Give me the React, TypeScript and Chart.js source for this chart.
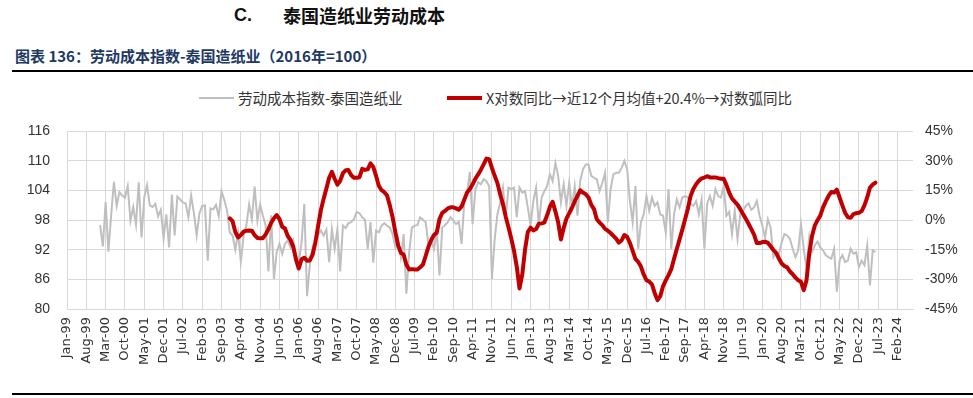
import React, { useEffect, useRef } from "react";
import { Chart, registerables } from "chart.js";

Chart.register(...registerables);

// months counted from Jan-99 (index 0)
const GRAY_START = 12; // Jan-00
const RED_START = 59; // Dec-03

const grayValues: number[] = [
  97.0, 92.7, 101.7, 91.6, 99.0, 105.8, 100.9, 103.7, 103.0, 102.6, 104.9, 97.9,
  100.7, 97.1, 105.7, 94.5, 102.6, 105.1, 101.0, 100.7, 101.3, 98.8, 100.1, 94.3,
  99.2, 92.5, 103.2, 94.9, 102.8, 102.2, 101.6, 101.4, 98.6, 103.0, 99.4, 94.9,
  99.4, 100.9, 101.0, 89.8, 100.4, 100.2, 101.1, 98.8, 103.9, 102.1, 100.0, 95.5,
  94.9, 92.0, 95.4, 89.6, 94.8, 96.9, 101.2, 98.2, 104.8, 97.9, 101.2, 98.9,
  96.9, 87.6, 99.0, 86.1, 91.5, 93.2, 91.2, 93.2, 93.9, 92.5, 93.9, 91.0,
  89.5, 93.5, 101.3, 82.6, 88.9, 92.5, 94.2, 95.0, 95.9, 94.9, 96.1, 89.5,
  96.2, 92.2, 96.2, 87.6, 96.9, 96.4, 97.4, 97.6, 98.2, 99.7, 99.4, 98.6,
  98.1, 92.2, 97.6, 89.4, 95.9, 95.5, 96.9, 97.4, 96.9, 96.5, 95.2, 92.5,
  94.2, 90.5, 95.2, 83.1, 91.5, 96.5, 96.9, 97.0, 98.6, 98.1, 97.6, 92.9,
  93.9, 92.2, 95.9, 86.8, 96.5, 97.0, 97.6, 98.6, 97.9, 97.2, 97.7, 93.2,
  101.9, 103.6, 107.8, 97.2, 104.2, 105.7, 105.3, 106.3, 105.9, 104.9, 86.1, 94.2,
  99.2, 101.6, 104.6, 98.6, 104.6, 104.3, 104.6, 98.6, 104.6, 103.6, 103.9, 100.6,
  96.9, 101.9, 104.6, 96.9, 102.6, 103.9, 104.9, 107.3, 105.9, 109.6, 107.0, 101.6,
  105.3, 100.9, 105.6, 100.6, 104.9, 98.9, 106.0, 108.3, 109.3, 109.3, 107.0, 106.6,
  106.3, 103.9, 105.6, 107.6, 97.6, 104.3, 107.3, 107.6, 107.6, 108.6, 110.0, 108.3,
  101.9, 97.6, 104.9, 92.2, 97.6, 99.2, 102.9, 99.9, 102.6, 100.9, 101.6, 99.2,
  98.9, 95.5, 104.3, 92.2, 99.2, 102.2, 100.6, 102.6, 102.9, 102.6, 101.3, 100.9,
  101.9, 99.2, 102.2, 92.2, 101.3, 102.9, 100.9, 104.3, 102.9, 102.6, 104.9, 98.9,
  99.7, 95.2, 99.9, 94.2, 99.2, 99.9, 100.9, 101.4, 100.1, 100.6, 101.9, 98.9,
  96.9, 94.5, 98.2, 96.5, 90.5, 91.5, 91.2, 93.5, 95.2, 94.9, 94.2, 92.2,
  90.5, 91.9, 97.2, 92.2, 88.2, 94.5, 91.5, 92.9, 93.7, 92.5, 91.9, 90.9,
  90.5, 90.2, 92.2, 83.5, 89.8, 90.9, 89.5, 89.8, 92.2, 91.2, 91.5, 88.5,
  89.8, 88.9, 92.9, 84.8, 91.9, 91.5,
];

const redValues: number[] = [
  0.9,
  -0.5, -6.0, -8.7, -7.5, -5.8, -5.3, -5.2, -5.3, -7.6, -9.0, -9.2, -9.1,
  -7.2, -4.5, -1.3, 1.0, 2.6, 0.6, -3.3, -4.2, -8.0, -10.0, -13.5, -20.0,
  -24.5, -19.8, -19.0, -20.5, -20.4, -17.5, -11.5, -3.0, 5.0, 10.8, 16.0, 21.5,
  24.5, 21.0, 18.0, 20.0, 23.8, 25.3, 25.4, 22.8, 21.5, 21.5, 21.8, 26.0,
  25.5, 25.8, 28.8, 27.0, 22.5, 17.5, 15.2, 14.2, 12.5, 7.5, 1.5, -6.0,
  -12.8, -16.5, -17.5, -22.5, -25.0, -24.8, -25.0, -25.0, -23.8, -22.5, -18.0, -13.5,
  -10.0, -7.5, -6.3, 0.6, 3.7, 4.7, 6.0, 6.5, 6.5, 6.0, 5.3, 7.0,
  10.5, 14.0, 15.8, 18.2, 21.0, 23.2, 25.6, 28.3, 31.2, 30.9, 26.5, 22.5,
  18.8, 13.0, 8.1, 1.8, -3.6, -9.3, -15.5, -23.5, -34.6, -27.5, -14.9, -6.0,
  -3.8, -5.2, -4.5, -1.8, -1.6, -1.2, 2.5, 6.8, 9.3, 4.5, -1.0, -9.8,
  -4.0, 0.8, 3.6, 6.3, 9.5, 12.3, 15.1, 14.0, 13.2, 11.5, 7.8, 5.6,
  0.5, -1.2, -2.5, -4.4, -5.3, -6.5, -7.9, -9.3, -11.4, -10.2, -7.5, -8.5,
  -11.5, -15.5, -19.6, -21.1, -23.5, -27.5, -30.4, -31.1, -32.5, -37.0, -40.5, -38.5,
  -33.5, -30.5, -27.8, -24.8, -19.5, -14.6, -9.7, -4.8, 0.5, 5.8, 12.3, 15.8,
  18.2, 20.0, 21.2, 21.6, 22.3, 21.7, 21.7, 21.7, 21.3, 21.0, 21.0, 17.8,
  14.0, 11.0, 9.4, 7.9, 5.6, 3.1, 0.7, -1.8, -4.5, -7.3, -11.6, -11.6,
  -11.1, -10.9, -11.5, -13.2, -15.1, -16.6, -19.4, -21.9, -23.2, -23.9, -26.0, -27.4,
  -29.1, -30.4, -31.2, -35.5, -30.5, -17.0, -8.0, -2.8, 0.0, 2.3, 6.5, 9.5,
  12.3, 14.3, 14.0, 15.5, 11.5, 7.5, 3.8, 1.5, 1.2, 3.1, 3.5, 3.8,
  4.6, 7.5, 11.5, 16.5, 18.0, 19.0,
];

const tickLabels: string[] = [
  "Jan-99", "Aug-99", "Mar-00", "Oct-00", "May-01", "Dec-01", "Jul-02", "Feb-03",
  "Sep-03", "Apr-04", "Nov-04", "Jun-05", "Jan-06", "Aug-06", "Mar-07", "Oct-07",
  "May-08", "Dec-08", "Jul-09", "Feb-10", "Sep-10", "Apr-11", "Nov-11", "Jun-12",
  "Jan-13", "Aug-13", "Mar-14", "Oct-14", "May-15", "Dec-15", "Jul-16", "Feb-17",
  "Sep-17", "Apr-18", "Nov-18", "Jun-19", "Jan-20", "Aug-20", "Mar-21", "Oct-21",
  "May-22", "Dec-22", "Jul-23", "Feb-24",
];
const TICK_STEP = 7;
const X_MAX = 306.6;

const LEFT_MIN = 80;
const LEFT_MAX = 116;
const LEFT_STEP = 6;
const RIGHT_MIN = -45;
const RIGHT_MAX = 45;
const RIGHT_STEP = 15;

const grayLabel = "劳动成本指数-泰国造纸业";
const redLabel = "X对数同比→近12个月均值+20.4%→对数弧同比";

const CJK = '"Noto Sans CJK SC", "Noto Sans", sans-serif';

export default function App() {
  const ref = useRef<HTMLCanvasElement | null>(null);

  useEffect(() => {
    if (!ref.current) return;
    const grid = "#d9d9d9";
    const chart = new Chart(ref.current, {
      type: "line",
      data: {
        datasets: [
          {
            label: redLabel,
            data: redValues.map((v, i) => ({ x: RED_START + i, y: v })),
            borderColor: "#c00000",
            backgroundColor: "#c00000",
            borderWidth: 4,
            pointRadius: 0,
            tension: 0,
            borderJoinStyle: "round",
            borderCapStyle: "round",
            yAxisID: "y2",
            order: 0,
          },
          {
            label: grayLabel,
            data: grayValues.map((v, i) => ({ x: GRAY_START + i, y: v })),
            borderColor: "#bfbfbf",
            backgroundColor: "#bfbfbf",
            borderWidth: 2,
            pointRadius: 0,
            tension: 0,
            yAxisID: "y",
            order: 1,
          },
        ],
      },
      options: {
        animation: false,
        responsive: false,
        devicePixelRatio: 1,
        layout: { padding: { top: 0, left: 0, right: 0, bottom: 0 } },
        plugins: { legend: { display: false }, tooltip: { enabled: false } },
        scales: {
          x: {
            type: "linear",
            bounds: "data",
            min: 0,
            max: X_MAX,
            afterBuildTicks: (scale: any) => {
              scale.ticks = tickLabels.map((_, i) => ({ value: i * TICK_STEP }));
            },
            afterFit: (scale: any) => {
              scale.height = 89;
            },
            grid: { color: grid, lineWidth: 1, drawTicks: false },
            border: { color: grid, width: 1 },
            ticks: {
              autoSkip: false,
              minRotation: 90,
              maxRotation: 90,
              padding: 8,
              color: "#333333",
              font: { family: '"DejaVu Sans"', size: 13 },
              callback: (v: any) => tickLabels[Math.round(Number(v) / TICK_STEP)] ?? "",
            },
          },
          y: {
            position: "left",
            min: LEFT_MIN,
            max: LEFT_MAX,
            afterFit: (scale: any) => {
              scale.width = 67;
            },
            grid: { color: grid, lineWidth: 1, drawTicks: false },
            border: { color: grid, width: 1 },
            ticks: {
              stepSize: LEFT_STEP,
              padding: 17,
              color: "#333333",
              font: { family: '"Liberation Sans"', size: 14 },
            },
          },
          y2: {
            position: "right",
            min: RIGHT_MIN,
            max: RIGHT_MAX,
            afterFit: (scale: any) => {
              scale.width = 60;
            },
            grid: { display: false, drawTicks: false },
            border: { display: false },
            ticks: {
              stepSize: RIGHT_STEP,
              padding: 12,
              color: "#333333",
              font: { family: '"Liberation Sans"', size: 14 },
              callback: (v: any) => `${v}%`,
            },
          },
        },
      },
    } as any);
    return () => chart.destroy();
  }, []);

  return (
    <div
      style={{
        position: "absolute",
        left: 0,
        top: 0,
        width: 973,
        height: 398,
        background: "#ffffff",
        overflow: "hidden",
      }}
    >
      <div
        style={{
          position: "absolute",
          left: 234,
          top: 5,
          fontFamily: '"Liberation Sans", sans-serif',
          fontWeight: 700,
          fontSize: 18,
          lineHeight: "20px",
          color: "#111",
        }}
      >
        C.
      </div>
      <div
        style={{
          position: "absolute",
          left: 283,
          top: 5,
          fontFamily: CJK,
          fontWeight: 700,
          fontSize: 18,
          lineHeight: "20px",
          color: "#111",
          whiteSpace: "nowrap",
        }}
      >
        泰国造纸业劳动成本
      </div>
      <div
        style={{
          position: "absolute",
          left: 15,
          top: 47,
          fontFamily: CJK,
          fontWeight: 700,
          fontSize: 15,
          lineHeight: "18px",
          color: "#203864",
          whiteSpace: "nowrap",
        }}
      >
        图表 136：劳动成本指数-泰国造纸业（2016年=100）
      </div>
      <div
        style={{
          position: "absolute",
          left: 12,
          top: 70,
          width: 961,
          height: 2,
          background: "#000",
        }}
      />
      <div
        style={{
          position: "absolute",
          left: 199,
          top: 97,
          width: 35,
          height: 2,
          background: "#bfbfbf",
        }}
      />
      <div
        style={{
          position: "absolute",
          left: 238,
          top: 89,
          fontFamily: CJK,
          fontSize: 14.5,
          lineHeight: "18px",
          color: "#333",
          whiteSpace: "nowrap",
        }}
      >
        {grayLabel}
      </div>
      <div
        style={{
          position: "absolute",
          left: 447,
          top: 96,
          width: 35,
          height: 4,
          background: "#c00000",
        }}
      />
      <div
        style={{
          position: "absolute",
          left: 486,
          top: 89,
          fontFamily: CJK,
          fontSize: 14.5,
          lineHeight: "18px",
          color: "#333",
          whiteSpace: "nowrap",
        }}
      >
        {redLabel}
      </div>
      <canvas
        ref={ref}
        width={973}
        height={292}
        style={{ position: "absolute", left: 0, top: 106, width: 973, height: 292 }}
      />
      <div
        style={{
          position: "absolute",
          left: 12,
          top: 393,
          width: 961,
          height: 2,
          background: "#000",
        }}
      />
    </div>
  );
}
